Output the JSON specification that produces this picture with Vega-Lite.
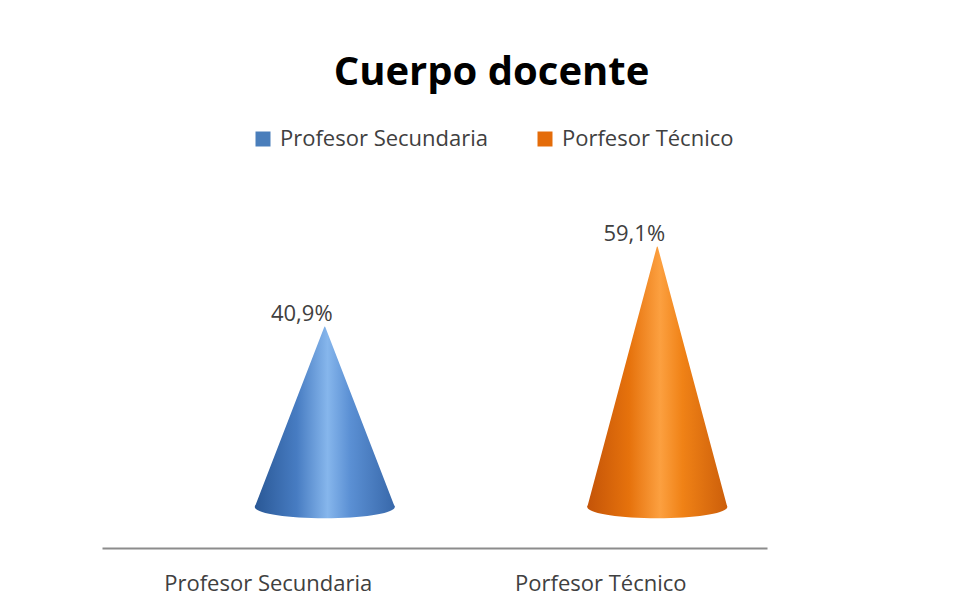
{
  "$schema": "https://vega.github.io/schema/vega-lite/v6.json",
  "autosize": {"type": "none"},
  "width": 665,
  "height": 337,
  "padding": {"left": 102, "top": 170, "right": 196, "bottom": 106},
  "background": "white",
  "config": {
    "view": {"stroke": null},
    "locale": {"number": {"decimal": ",", "thousands": ".", "grouping": [3], "currency": ["", " €"]}},
    "font": "Open Sans"
  },
  "title": {
    "text": "Cuerpo docente",
    "font": "Open Sans",
    "fontSize": 40,
    "fontWeight": "bold",
    "color": "#000000",
    "anchor": "middle",
    "frame": "group",
    "dx": 57,
    "offset": 35
  },
  "data": {
    "values": [
      {"cargo": "Profesor Secundaria", "punto": "base", "valor": 0},
      {"cargo": "Profesor Secundaria", "punto": "vértice", "valor": 0.409},
      {"cargo": "Porfesor Técnico", "punto": "base", "valor": 0},
      {"cargo": "Porfesor Técnico", "punto": "vértice", "valor": 0.591}
    ]
  },
  "encoding": {
    "x": {
      "field": "cargo",
      "type": "nominal",
      "sort": ["Profesor Secundaria", "Porfesor Técnico"],
      "scale": {"type": "point", "padding": 0.5, "align": 0.67},
      "axis": {
        "title": null,
        "domain": true,
        "domainColor": "#8c8c8c",
        "domainWidth": 2,
        "offset": 41,
        "ticks": false,
        "labelAngle": 0,
        "labelFont": "Open Sans",
        "labelFontSize": 22,
        "labelColor": "#404040",
        "labelPadding": 25,
        "labelOffset": -57,
        "labelLimit": 400,
        "grid": false
      }
    },
    "y": {
      "field": "valor",
      "type": "quantitative",
      "scale": {"domain": [0, 0.766], "nice": false, "zero": true},
      "axis": null
    }
  },
  "layer": [
    {
      "mark": {"type": "point", "filled": true, "opacity": 0},
      "transform": [{"filter": "datum.punto === 'vértice'"}],
      "encoding": {
        "color": {
          "field": "cargo",
          "type": "nominal",
          "scale": {"domain": ["Profesor Secundaria", "Porfesor Técnico"], "range": ["#4a7ebb", "#e46c0a"]},
          "legend": {
            "title": null,
            "orient": "none",
            "direction": "horizontal",
            "legendX": 150,
            "legendY": -42,
            "symbolType": "square",
            "symbolSize": 225,
            "symbolOpacity": 1,
            "symbolStrokeWidth": 0,
            "labelFont": "Open Sans",
            "labelFontSize": 22,
            "labelColor": "#404040",
            "labelOffset": 6,
            "columnPadding": 45,
            "labelLimit": 400
          }
        }
      }
    },
    {
      "transform": [{"filter": "datum.cargo === 'Profesor Secundaria'"}],
      "layer": [
        {
          "transform": [{"filter": "datum.punto === 'base'"}],
          "mark": {
            "type": "point",
            "filled": true,
            "opacity": 1,
            "size": 19600,
            "shape": "M-1,0A1,0.16,0,1,1,1,0A1,0.16,0,1,1,-1,0Z",
            "color": {"gradient": "linear", "x1": 0, "x2": 1, "y1": 0, "y2": 0,
              "stops": [
                {"offset": 0, "color": "#2a5896"},
                {"offset": 0.3, "color": "#477cc2"},
                {"offset": 0.52, "color": "#86b6ec"},
                {"offset": 0.68, "color": "#5b90d4"},
                {"offset": 1, "color": "#3868aa"}
              ]}
          }
        },
        {
          "mark": {
            "type": "trail",
            "clip": true,
            "opacity": 1,
            "color": {"gradient": "linear", "x1": 0, "x2": 1, "y1": 0, "y2": 0,
              "stops": [
                {"offset": 0, "color": "#2a5896"},
                {"offset": 0.3, "color": "#477cc2"},
                {"offset": 0.52, "color": "#86b6ec"},
                {"offset": 0.68, "color": "#5b90d4"},
                {"offset": 1, "color": "#3868aa"}
              ]}
          },
          "encoding": {
            "order": {"field": "valor", "type": "quantitative"},
            "size": {"field": "punto", "type": "ordinal", "scale": {"domain": ["base", "vértice"], "range": [140, 0]}, "legend": null}
          }
        }
      ]
    },
    {
      "transform": [{"filter": "datum.cargo === 'Porfesor Técnico'"}],
      "layer": [
        {
          "transform": [{"filter": "datum.punto === 'base'"}],
          "mark": {
            "type": "point",
            "filled": true,
            "opacity": 1,
            "size": 19600,
            "shape": "M-1,0A1,0.16,0,1,1,1,0A1,0.16,0,1,1,-1,0Z",
            "color": {"gradient": "linear", "x1": 0, "x2": 1, "y1": 0, "y2": 0,
              "stops": [
                {"offset": 0, "color": "#c45408"},
                {"offset": 0.3, "color": "#e6720c"},
                {"offset": 0.52, "color": "#fca040"},
                {"offset": 0.68, "color": "#f08216"},
                {"offset": 1, "color": "#cc5e0a"}
              ]}
          }
        },
        {
          "mark": {
            "type": "trail",
            "clip": true,
            "opacity": 1,
            "color": {"gradient": "linear", "x1": 0, "x2": 1, "y1": 0, "y2": 0,
              "stops": [
                {"offset": 0, "color": "#c45408"},
                {"offset": 0.3, "color": "#e6720c"},
                {"offset": 0.52, "color": "#fca040"},
                {"offset": 0.68, "color": "#f08216"},
                {"offset": 1, "color": "#cc5e0a"}
              ]}
          },
          "encoding": {
            "order": {"field": "valor", "type": "quantitative"},
            "size": {"field": "punto", "type": "ordinal", "scale": {"domain": ["base", "vértice"], "range": [140, 0]}, "legend": null}
          }
        }
      ]
    },
    {
      "transform": [{"filter": "datum.punto === 'vértice'"}],
      "mark": {"type": "text", "font": "Open Sans", "fontSize": 22, "color": "#404040", "baseline": "middle", "align": "center", "dx": -23, "dy": -13},
      "encoding": {
        "text": {"field": "valor", "type": "quantitative", "format": ".1%"}
      }
    }
  ]
}
